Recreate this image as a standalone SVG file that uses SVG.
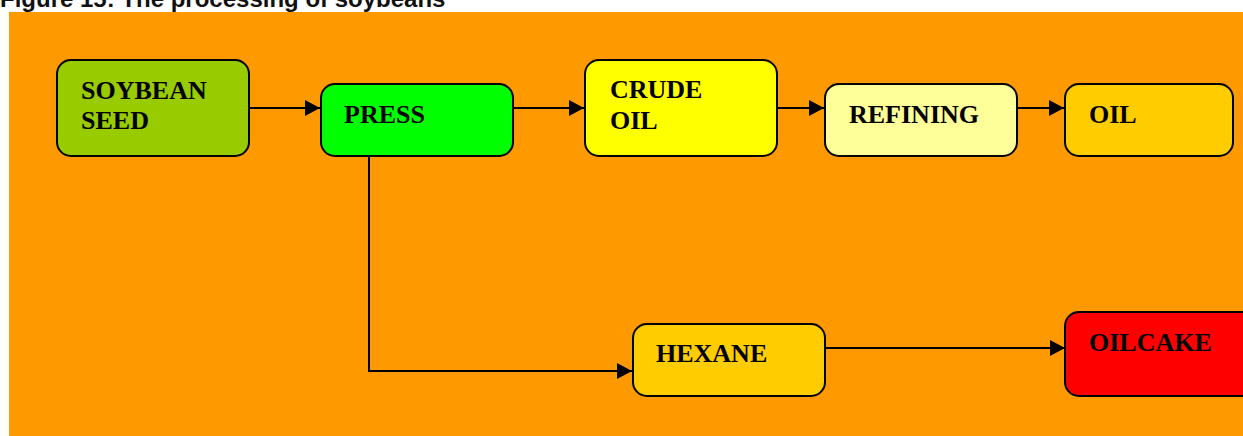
<svg xmlns="http://www.w3.org/2000/svg" width="1243" height="436" viewBox="0 0 1243 436">
<style>
.box{stroke:#000;stroke-width:2}
.lbl{font-family:"Liberation Serif","Times New Roman",serif;font-weight:bold;font-size:26px;fill:#000}
.title{font-family:"Liberation Sans",Arial,sans-serif;font-weight:bold;font-size:24px;fill:#111}
.conn{fill:none;stroke:#000;stroke-width:2}
</style>
<defs>
<marker id="arr" markerUnits="userSpaceOnUse" markerWidth="16" markerHeight="16" refX="15" refY="8" orient="auto">
<path d="M0,0 L15,8 L0,16 z" fill="#000"/>
</marker>
</defs>
<rect width="1243" height="436" fill="#fff"/>
<text class="title" x="0" y="7">Figure 15: The processing of soybeans</text>
<rect x="9" y="12" width="1234" height="424" fill="#FF9900"/>
<g id="connectors">
<path class="conn" d="M249,108 L320,108" marker-end="url(#arr)"/>
<path class="conn" d="M513,108 L584,108" marker-end="url(#arr)"/>
<path class="conn" d="M777,108 L824,108" marker-end="url(#arr)"/>
<path class="conn" d="M1017,108 L1064,108" marker-end="url(#arr)"/>
<path class="conn" d="M369,156 L369,371 L632,371" marker-end="url(#arr)"/>
<path class="conn" d="M825,348 L1065,348" marker-end="url(#arr)"/>
</g>
<g id="soybean-seed">
<rect class="box" x="57" y="60" width="192" height="96" rx="14" fill="#99CC00"/>
<text class="lbl" x="81" y="99">SOYBEAN</text>
<text class="lbl" x="81" y="129">SEED</text>
</g>
<g id="press">
<rect class="box" x="321" y="84" width="192" height="72" rx="14" fill="#00FF00"/>
<text class="lbl" x="344" y="123">PRESS</text>
</g>
<g id="crude-oil">
<rect class="box" x="585" y="60" width="192" height="96" rx="14" fill="#FFFF00"/>
<text class="lbl" x="610" y="98">CRUDE</text>
<text class="lbl" x="610" y="129">OIL</text>
</g>
<g id="refining">
<rect class="box" x="825" y="84" width="192" height="72" rx="14" fill="#FFFF99"/>
<text class="lbl" x="849" y="123">REFINING</text>
</g>
<g id="oil">
<rect class="box" x="1065" y="84" width="168" height="72" rx="14" fill="#FFCC00"/>
<text class="lbl" x="1089" y="123">OIL</text>
</g>
<g id="hexane">
<rect class="box" x="633" y="324" width="192" height="72" rx="14" fill="#FFCC00"/>
<text class="lbl" x="656" y="362">HEXANE</text>
</g>
<g id="oilcake">
<rect class="box" x="1065" y="312" width="192" height="84" rx="14" fill="#FF0000"/>
<text class="lbl" x="1089" y="351">OILCAKE</text>
</g>
</svg>
